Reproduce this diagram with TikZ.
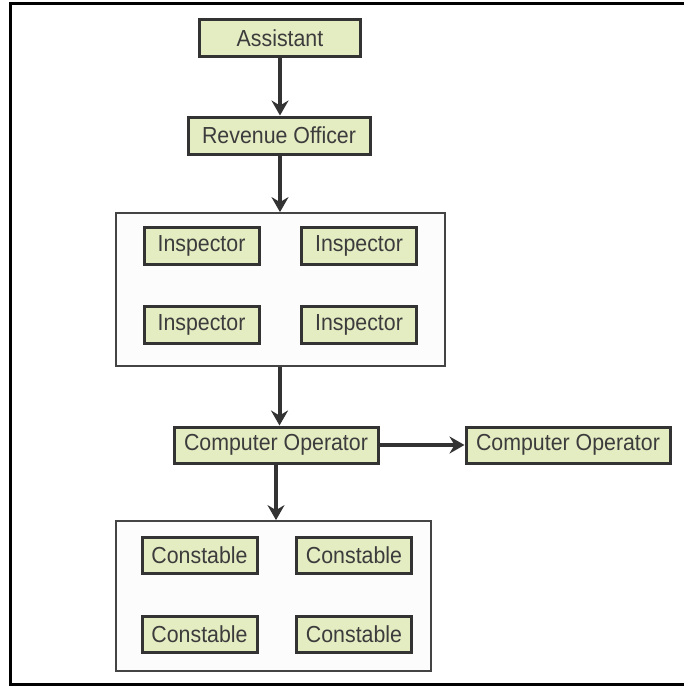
\documentclass[tikz,border=0pt]{standalone}
\usepackage{fontspec}
\setmainfont{Liberation Sans}
\newfontfamily\postfont[FakeStretch=0.92]{Liberation Sans}
\usetikzlibrary{arrows.meta}
\definecolor{boxfill}{HTML}{E4ECC2}
\definecolor{boxline}{HTML}{333333}
\definecolor{txt}{HTML}{3C3C3C}
\definecolor{grpline}{HTML}{444444}
\definecolor{grpfill}{HTML}{FDFCFC}
\tikzset{
  post/.style={draw=boxline, line width=3pt, fill=boxfill, text=txt,
    font=\postfont\fontsize{23.2}{26}\selectfont, inner sep=0pt,
    minimum height=37pt},
  group/.style={draw=grpline, line width=1.8pt, fill=grpfill, inner sep=0pt},
  link/.style={draw=boxline, line width=4pt,
    -{Stealth[length=15pt,width=17pt,inset=5pt]}},
}
\begin{document}
\begin{tikzpicture}[x=1pt,y=-1pt]
\useasboundingbox (0,0) rectangle (684,686);
% outer frame (open on the right)
\draw[line width=3pt, black] (684,3.5) -- (10.5,3.5) -- (10.5,684.5) -- (684,684.5);

% top of the chain
\node[post, minimum width=161pt] (asst) at (280,38) {Assistant};
\node[post, minimum width=182pt] (rev) at (279,135.5) {Revenue Officer};

% inspector group
\node[group, minimum width=329pt, minimum height=153pt] (insp) at (280.5,289.5) {};
\node[post, minimum width=115pt] (i1) at (201.5,245.5) {Inspector};
\node[post, minimum width=115pt] (i2) at (359,245.5) {Inspector};
\node[post, minimum width=115pt] (i3) at (201.5,325) {Inspector};
\node[post, minimum width=115pt] (i4) at (359,325) {Inspector};

% computer operators
\node[post, minimum width=204pt, minimum height=36pt] (co) at (276,445) {Computer Operator};
\node[post, minimum width=204pt, minimum height=36pt] (co2) at (568,445) {Computer Operator};

% constable group
\node[group, minimum width=315pt, minimum height=150pt] (cons) at (273.5,596) {};
\node[post, minimum width=115pt, minimum height=36pt] (c1) at (199.5,555) {Constable};
\node[post, minimum width=115pt, minimum height=36pt] (c2) at (354,555) {Constable};
\node[post, minimum width=115pt, minimum height=36pt] (c3) at (199.5,634) {Constable};
\node[post, minimum width=115pt, minimum height=36pt] (c4) at (354,634) {Constable};

% connectors
\draw[link] (asst.south) -- (asst.south |- rev.north);
\draw[link] (rev.south -| asst.south) -- (asst.south |- insp.north);
\draw[link] ([xshift=-1pt]insp.south) -- ([xshift=-1pt]insp.south |- co.north);
\draw[link] (co.east) -- (co2.west);
\draw[link] (co.south) -- (co.south |- cons.north);
\end{tikzpicture}
\end{document}
